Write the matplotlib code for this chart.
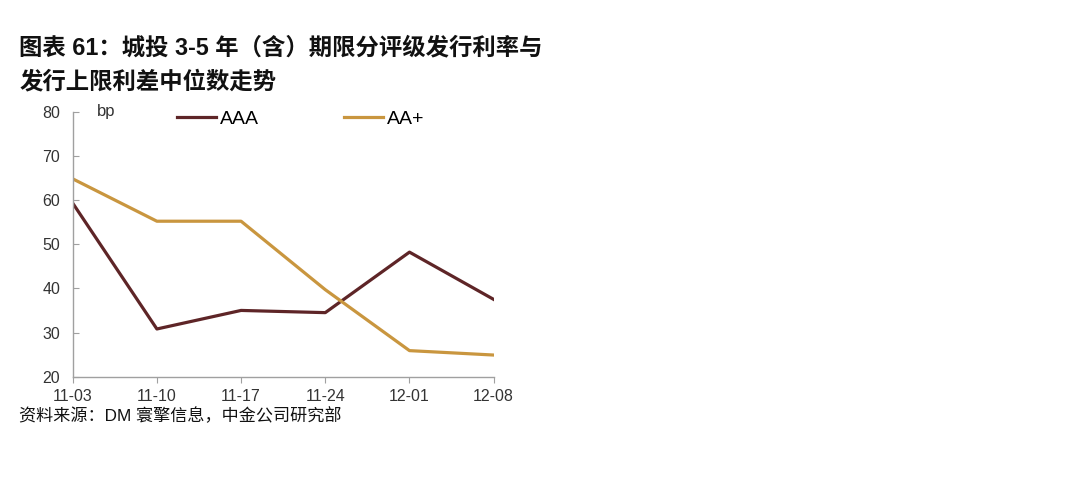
import matplotlib.pyplot as plt

plt.rcParams['font.family'] = ['Liberation Sans', 'Noto Sans CJK SC', 'DejaVu Sans']

# data
dates = ['11-03', '11-10', '11-17', '11-24', '12-01', '12-08']
aaa = [59.3, 30.8, 35.0, 34.5, 48.2, 37.5]
aa_plus = [64.8, 55.2, 55.2, 39.7, 25.9, 24.9]
yticks = [20, 30, 40, 50, 60, 70, 80]

fig = plt.figure(figsize=(10.8, 4.82), dpi=100)
ax = fig.add_axes([0.0673, 0.2185, 0.3898, 0.5498])

x = range(len(dates))
l1, = ax.plot(x, aaa, color='#5E2527', lw=2.3, label='AAA')
l2, = ax.plot(x, aa_plus, color='#C9963F', lw=2.3, label='AA+')

ax.set_xlim(0, len(dates) - 1)
ax.set_ylim(20, 80)
ax.set_yticks(yticks)
ax.set_xticks(list(x))
ax.set_xticklabels(dates)

for s in ['top', 'right']:
    ax.spines[s].set_visible(False)
for s in ['left', 'bottom']:
    ax.spines[s].set_color('#A0A0A0')
    ax.spines[s].set_linewidth(1.0)

ax.tick_params(axis='y', direction='in', length=4, color='#A0A0A0',
               labelsize=11.5, labelcolor='#333333', pad=9)
ax.tick_params(axis='x', direction='out', length=4, color='#A0A0A0',
               labelsize=11.5, labelcolor='#333333', pad=5)

ax.text(0.058, 1.0, 'bp', transform=ax.transAxes, fontsize=12,
        color='#333333', va='center', ha='left')

ax.legend(handles=[l1, l2], loc='center left',
          bbox_to_anchor=(177 / 1080, 1 - 119 / 482),
          bbox_transform=fig.transFigure, borderpad=0, borderaxespad=0,
          ncol=2, frameon=False, fontsize=14, handlelength=2.0,
          handletextpad=0.2, columnspacing=4.4)

fig.text(0.018, 0.90, '图表 61：城投 3-5 年（含）期限分评级发行利率与',
         fontsize=16.8, fontweight='bold', color='#111111', va='center')
fig.text(0.018, 0.83, '发行上限利差中位数走势',
         fontsize=16.8, fontweight='bold', color='#111111', va='center')
fig.text(0.018, 0.137, '资料来源：DM 寰擎信息，中金公司研究部',
         fontsize=12.3, color='#111111', va='center')

fig.savefig('out.png', dpi=100)
